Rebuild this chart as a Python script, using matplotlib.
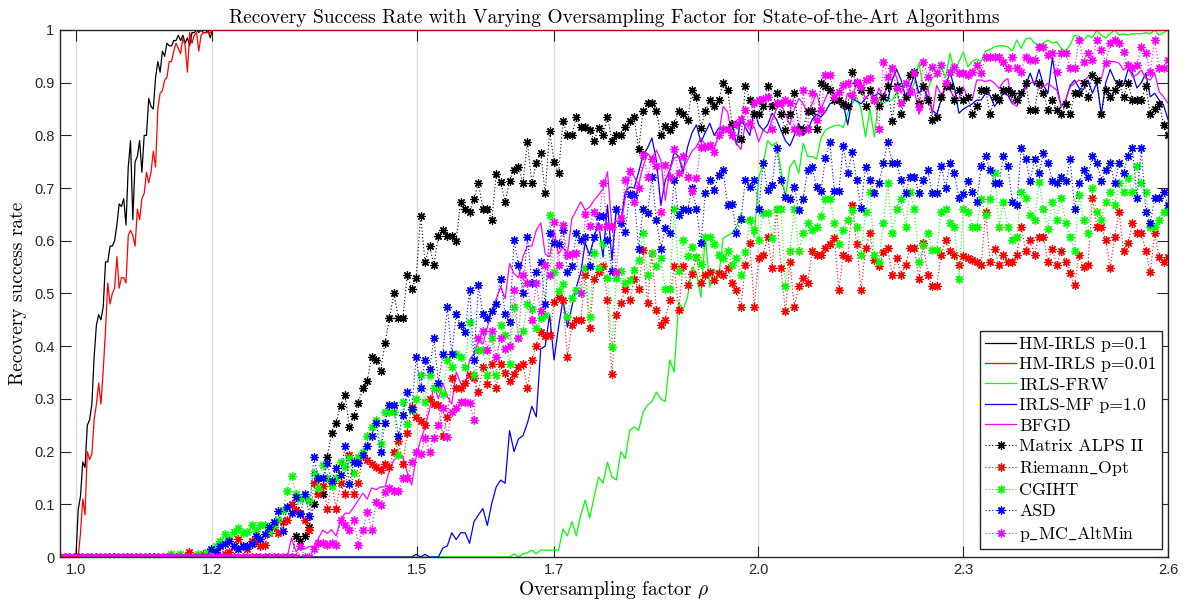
import numpy as np
import matplotlib
matplotlib.use("Agg")
import matplotlib.pyplot as plt

plt.rcParams["mathtext.fontset"] = "cm"
plt.rcParams["axes.unicode_minus"] = False
SERIF = ["cmr10", "DejaVu Serif"]
SANS = ["Liberation Sans", "DejaVu Sans"]
MAGENTA = "#ff00ff"
GREEN = "#00ff00"

# oversampling grid shared by all algorithms
N = 250
rho = np.linspace(0.977, 2.6, N)

# HM-IRLS was run on a finer grid between 1.0 and 1.2 (success = 1 afterwards)
hm_rho = np.concatenate([[rho[0]], np.linspace(1.0, 1.2, 61), [rho[-1]]])
hm_p1 = [0.0,
         0.0, 0.09, 0.115, 0.18, 0.17, 0.25, 0.26, 0.29, 0.38, 0.44,
         0.46, 0.45, 0.475, 0.56, 0.56, 0.59, 0.59, 0.60, 0.63, 0.67,
         0.665, 0.68, 0.63, 0.74, 0.79, 0.64, 0.75, 0.76, 0.79, 0.73,
         0.80, 0.80, 0.87, 0.855, 0.85, 0.91, 0.94, 0.92, 0.96, 0.95,
         0.975, 0.97, 0.97, 0.98, 0.98, 0.99, 0.98, 0.99, 0.975, 0.985,
         0.97, 0.995, 0.995, 1.0, 0.995, 1.0, 0.995, 0.995, 1.0, 0.985,
         1.0,
         1.0]
hm_p001 = [0.0,
           0.0, 0.0, 0.045, 0.11, 0.08, 0.20, 0.185, 0.195, 0.26, 0.29,
           0.33, 0.29, 0.355, 0.43, 0.52, 0.48, 0.50, 0.51, 0.57, 0.51,
           0.53, 0.53, 0.52, 0.61, 0.62, 0.61, 0.59, 0.66, 0.64, 0.68,
           0.69, 0.73, 0.71, 0.73, 0.77, 0.74, 0.85, 0.88, 0.885, 0.905,
           0.91, 0.94, 0.94, 0.96, 0.975, 0.965, 0.955, 0.985, 0.97, 0.92,
           0.995, 0.975, 0.99, 0.995, 0.96, 0.99, 0.995, 0.995, 0.995, 0.995,
           1.0,
           1.0]

# the remaining curves are zero below the listed tail (tail ends at rho = 2.6)
irls_frw = [0.0, 0.006, 0.0, 0.006, 0.008, 0.013, 0.006, 0.013, 0.013,
            0.013, 0.013, 0.013, 0.053, 0.04, 0.067, 0.04, 0.08, 0.108, 0.074,
            0.114, 0.152, 0.14, 0.18, 0.152, 0.146, 0.20, 0.187, 0.24, 0.247,
            0.24, 0.275, 0.288, 0.295, 0.313, 0.30, 0.295, 0.374, 0.351, 0.484,
            0.469, 0.493, 0.55, 0.54, 0.493, 0.61, 0.512, 0.546, 0.53, 0.605,
            0.61, 0.615, 0.626, 0.652, 0.635, 0.645, 0.607, 0.72, 0.747, 0.79,
            0.78, 0.787, 0.734, 0.683, 0.74, 0.753, 0.728, 0.785, 0.76, 0.76,
            0.755, 0.795, 0.81, 0.815, 0.818, 0.82, 0.815, 0.842, 0.86, 0.873,
            0.85, 0.797, 0.85, 0.797, 0.87, 0.86, 0.867, 0.867, 0.882, 0.855,
            0.867, 0.88, 0.90, 0.937, 0.89, 0.887, 0.91, 0.912, 0.93, 0.91,
            0.956, 0.92, 0.94, 0.958, 0.93, 0.94, 0.945, 0.94, 0.96, 0.963,
            0.968, 0.97, 0.97, 0.968, 0.96, 0.981, 0.965, 0.983, 0.985, 0.975,
            0.972, 0.975, 0.981, 0.975, 0.978, 0.965, 0.96, 0.972, 0.99, 0.988,
            0.981, 0.99, 0.985, 1.0, 0.99, 0.985, 0.993, 1.0, 0.99, 0.993,
            0.99, 0.993, 0.993, 0.993, 0.995, 0.993, 1.0, 0.99, 0.995, 1.0]

irls_mf = [0.005, 0.0, 0.005, 0.0, 0.0, 0.0, 0.017, 0.021, 0.046, 0.033,
           0.046, 0.046, 0.026, 0.067, 0.08, 0.092, 0.06, 0.102, 0.133, 0.146,
           0.14, 0.24, 0.20, 0.224, 0.23, 0.254, 0.286, 0.266, 0.395, 0.40,
           0.46, 0.374, 0.436, 0.488, 0.436, 0.475, 0.512, 0.54, 0.596, 0.573,
           0.607, 0.634, 0.569, 0.668, 0.563, 0.664, 0.636, 0.693, 0.702, 0.70,
           0.73, 0.763, 0.776, 0.795, 0.753, 0.668, 0.715, 0.734, 0.768, 0.76,
           0.73, 0.778, 0.805, 0.82, 0.787, 0.806, 0.823, 0.80, 0.814, 0.81,
           0.81, 0.825, 0.782, 0.833, 0.815, 0.80, 0.848, 0.82, 0.81, 0.82,
           0.842, 0.83, 0.81, 0.79, 0.78, 0.80, 0.823, 0.80, 0.81, 0.83,
           0.84, 0.835, 0.845, 0.86, 0.865, 0.87, 0.86, 0.82, 0.87, 0.865,
           0.86, 0.87, 0.88, 0.875, 0.88, 0.87, 0.865, 0.905, 0.925, 0.905,
           0.873, 0.89, 0.915, 0.88, 0.89, 0.873, 0.848, 0.84, 0.867, 0.894,
           0.92, 0.89, 0.842, 0.85, 0.855, 0.86, 0.867, 0.867, 0.88, 0.876,
           0.855, 0.867, 0.88, 0.876, 0.86, 0.88, 0.878, 0.895, 0.918, 0.895,
           0.925, 0.895, 0.88, 0.947, 0.895, 0.854, 0.867, 0.895, 0.905, 0.89,
           0.887, 0.905, 0.88, 0.90, 0.84, 0.90, 0.925, 0.905, 0.895, 0.895,
           0.925, 0.918, 0.89, 0.90, 0.918, 0.873, 0.88, 0.867, 0.857, 0.83]

bfgd = [0.0, 0.036, 0.01, 0.02, 0.015, 0.02, 0.02, 0.035, 0.051,
        0.045, 0.052, 0.04, 0.07, 0.083, 0.083, 0.095, 0.108, 0.121, 0.11,
        0.131, 0.128, 0.133, 0.133, 0.165, 0.184, 0.19, 0.19, 0.16, 0.137,
        0.19, 0.222, 0.247, 0.279, 0.326, 0.30, 0.33, 0.305, 0.29, 0.351,
        0.33, 0.323, 0.374, 0.386, 0.41, 0.404, 0.436, 0.468, 0.49, 0.513,
        0.49, 0.557, 0.538, 0.53, 0.57, 0.59, 0.59, 0.62, 0.634, 0.575,
        0.57, 0.617, 0.575, 0.588, 0.575, 0.642, 0.658, 0.674, 0.658, 0.664,
        0.677, 0.687, 0.699, 0.731, 0.627, 0.639, 0.627, 0.68, 0.731, 0.722,
        0.706, 0.741, 0.766, 0.757, 0.772, 0.753, 0.677, 0.734, 0.757, 0.76,
        0.737, 0.753, 0.77, 0.779, 0.795, 0.782, 0.773, 0.776, 0.801, 0.855,
        0.845, 0.798, 0.785, 0.773, 0.823, 0.81, 0.816, 0.788, 0.81, 0.804,
        0.83, 0.85, 0.86, 0.84, 0.82, 0.85, 0.87, 0.86, 0.84, 0.86,
        0.88, 0.85, 0.87, 0.89, 0.88, 0.86, 0.85, 0.88, 0.87, 0.90,
        0.89, 0.87, 0.88, 0.86, 0.89, 0.87, 0.90, 0.93, 0.91, 0.88,
        0.899, 0.892, 0.886, 0.84, 0.861, 0.892, 0.84, 0.895, 0.877, 0.889,
        0.886, 0.87, 0.87, 0.892, 0.87, 0.867, 0.905, 0.905, 0.902, 0.905,
        0.899, 0.889, 0.902, 0.908, 0.861, 0.855, 0.877, 0.889, 0.899, 0.902,
        0.889, 0.892, 0.899, 0.892, 0.886, 0.855, 0.867, 0.892, 0.899, 0.905,
        0.902, 0.911, 0.911, 0.908, 0.908, 0.94, 0.94, 0.94, 0.937, 0.924,
        0.93, 0.911, 0.915, 0.924, 0.908, 0.905, 0.918, 0.883, 0.873, 0.861]

alps2 = [0.04, 0.03, 0.04, 0.057, 0.10, 0.15, 0.12,
         0.19, 0.235, 0.255, 0.287, 0.307, 0.247, 0.267, 0.292, 0.32, 0.334,
         0.38, 0.374, 0.353, 0.406, 0.453, 0.50, 0.453, 0.453, 0.535, 0.508,
         0.53, 0.647, 0.56, 0.59, 0.554, 0.61, 0.62, 0.61, 0.61, 0.60,
         0.674, 0.66, 0.655, 0.68, 0.71, 0.66, 0.66, 0.64, 0.727, 0.712,
         0.674, 0.713, 0.734, 0.74, 0.71, 0.787, 0.71, 0.748, 0.767, 0.69,
         0.808, 0.75, 0.728, 0.827, 0.80, 0.80, 0.835, 0.815, 0.815, 0.81,
         0.79, 0.814, 0.80, 0.835, 0.79, 0.80, 0.80, 0.815, 0.827, 0.835,
         0.774, 0.846, 0.861, 0.861, 0.846, 0.80, 0.817, 0.81, 0.822, 0.846,
         0.84, 0.829, 0.886, 0.873, 0.814, 0.846, 0.867, 0.855, 0.867, 0.90,
         0.887, 0.822, 0.822, 0.793, 0.894, 0.867, 0.84, 0.84, 0.855, 0.894,
         0.855, 0.88, 0.84, 0.81, 0.84, 0.88, 0.813, 0.813, 0.846, 0.846,
         0.813, 0.90, 0.894, 0.886, 0.867, 0.867, 0.86, 0.855, 0.92, 0.90,
         0.887, 0.855, 0.887, 0.867, 0.855, 0.873, 0.894, 0.827, 0.894, 0.84,
         0.873, 0.915, 0.92, 0.861, 0.894, 0.867, 0.829, 0.835, 0.873, 0.894,
         0.894, 0.867, 0.887, 0.867, 0.873, 0.84, 0.855, 0.887, 0.887, 0.84,
         0.873, 0.867, 0.887, 0.887, 0.88, 0.867, 0.88, 0.90, 0.848, 0.848,
         0.90, 0.88, 0.848, 0.867, 0.848, 0.84, 0.86, 0.84, 0.88, 0.88,
         0.90, 0.873, 0.915, 0.905, 0.84, 0.886, 0.873, 0.886, 0.90, 0.873,
         0.90, 0.867, 0.867, 0.867, 0.894, 0.84, 0.85, 0.86, 0.82, 0.80]

riemann = [0.01,
           0.0, 0.0, 0.005, 0.0, 0.0, 0.01, 0.0, 0.005, 0.01, 0.02,
           0.035, 0.02, 0.015, 0.03, 0.029, 0.02, 0.023, 0.045, 0.057, 0.045,
           0.066, 0.07, 0.101, 0.09, 0.083, 0.07, 0.051, 0.14, 0.12, 0.135,
           0.092, 0.14, 0.092, 0.14, 0.12, 0.194, 0.12, 0.14, 0.194, 0.184,
           0.176, 0.17, 0.165, 0.176, 0.17, 0.2, 0.22, 0.176, 0.235, 0.284,
           0.265, 0.258, 0.25, 0.3, 0.29, 0.288, 0.23, 0.265, 0.34, 0.32,
           0.32, 0.33, 0.345, 0.34, 0.313, 0.36, 0.329, 0.367, 0.32, 0.367,
           0.35, 0.334, 0.347, 0.36, 0.367, 0.32, 0.374, 0.401, 0.427, 0.419,
           0.421, 0.484, 0.494, 0.488, 0.38, 0.44, 0.45, 0.45, 0.535, 0.434,
           0.527, 0.54, 0.553, 0.488, 0.347, 0.46, 0.482, 0.509, 0.488, 0.527,
           0.508, 0.582, 0.482, 0.576, 0.468, 0.44, 0.45, 0.488, 0.553, 0.468,
           0.553, 0.516, 0.537, 0.569, 0.52, 0.535, 0.54, 0.526, 0.539, 0.535,
           0.548, 0.52, 0.506, 0.475, 0.554, 0.595, 0.475, 0.567, 0.573, 0.608,
           0.548, 0.66, 0.548, 0.466, 0.56, 0.475, 0.514, 0.529, 0.52, 0.581,
           0.573, 0.573, 0.586, 0.594, 0.606, 0.506, 0.573, 0.567, 0.668, 0.594,
           0.506, 0.586, 0.614, 0.563, 0.552, 0.579, 0.586, 0.535, 0.567, 0.535,
           0.554, 0.586, 0.586, 0.527, 0.595, 0.535, 0.514, 0.514, 0.573, 0.602,
           0.581, 0.573, 0.554, 0.571, 0.567, 0.563, 0.56, 0.554, 0.655, 0.56,
           0.585, 0.554, 0.573, 0.56, 0.56, 0.573, 0.627, 0.581, 0.602, 0.573,
           0.608, 0.608, 0.56, 0.585, 0.554, 0.581, 0.56, 0.539, 0.516, 0.573,
           0.551, 0.554, 0.681, 0.627, 0.627, 0.602, 0.548, 0.608, 0.655, 0.581,
           0.595, 0.634, 0.614, 0.614, 0.581, 0.54, 0.614, 0.569, 0.56, 0.569]

cgiht = [0.005, 0.0, 0.005, 0.0, 0.0,
         0.0, 0.005, 0.0, 0.01, 0.005, 0.02, 0.03, 0.043, 0.035, 0.048,
         0.055, 0.045, 0.048, 0.06, 0.05, 0.06, 0.06, 0.048, 0.06, 0.07,
         0.09, 0.125, 0.154, 0.12, 0.11, 0.116, 0.106, 0.16, 0.13, 0.174,
         0.15, 0.134, 0.15, 0.181, 0.17, 0.187, 0.16, 0.19, 0.2, 0.229,
         0.247, 0.26, 0.215, 0.276, 0.276, 0.276, 0.193, 0.295, 0.253, 0.278,
         0.30, 0.345, 0.295, 0.345, 0.32, 0.32, 0.31, 0.374, 0.361, 0.386,
         0.38, 0.361, 0.446, 0.345, 0.393, 0.393, 0.345, 0.415, 0.345, 0.44,
         0.421, 0.367, 0.474, 0.415, 0.428, 0.48, 0.47, 0.434, 0.453, 0.46,
         0.649, 0.54, 0.505, 0.518, 0.456, 0.492, 0.507, 0.50, 0.548, 0.456,
         0.576, 0.548, 0.595, 0.53, 0.399, 0.53, 0.542, 0.52, 0.525, 0.545,
         0.564, 0.614, 0.535, 0.576, 0.553, 0.567, 0.508, 0.508, 0.661, 0.542,
         0.601, 0.572, 0.589, 0.569, 0.556, 0.608, 0.608, 0.594, 0.573, 0.567,
         0.581, 0.554, 0.568, 0.535, 0.579, 0.64, 0.621, 0.601, 0.652, 0.653,
         0.606, 0.661, 0.661, 0.514, 0.581, 0.661, 0.581, 0.614, 0.634, 0.62,
         0.627, 0.647, 0.68, 0.68, 0.634, 0.594, 0.621, 0.64, 0.658, 0.627,
         0.573, 0.655, 0.693, 0.573, 0.56, 0.634, 0.709, 0.614, 0.66, 0.68,
         0.627, 0.693, 0.66, 0.56, 0.592, 0.614, 0.582, 0.582, 0.655, 0.66,
         0.634, 0.627, 0.527, 0.66, 0.655, 0.627, 0.627, 0.679, 0.649, 0.679,
         0.728, 0.627, 0.674, 0.627, 0.602, 0.608, 0.693, 0.681, 0.649, 0.64,
         0.712, 0.66, 0.622, 0.674, 0.64, 0.681, 0.634, 0.608, 0.581, 0.687,
         0.64, 0.614, 0.701, 0.655, 0.64, 0.674, 0.693, 0.668, 0.709, 0.693,
         0.72, 0.693, 0.742, 0.709, 0.693, 0.627, 0.627, 0.64, 0.655, 0.655]

asd = [0.016, 0.01, 0.02, 0.025, 0.03, 0.02,
       0.015, 0.02, 0.02, 0.025, 0.04, 0.035, 0.043, 0.057, 0.066, 0.088,
       0.05, 0.095, 0.083, 0.114, 0.082, 0.12, 0.078, 0.189, 0.149, 0.15,
       0.178, 0.145, 0.169, 0.155, 0.21, 0.139, 0.181, 0.178, 0.194, 0.21,
       0.229, 0.255, 0.2, 0.255, 0.289, 0.289, 0.229, 0.27, 0.314, 0.28,
       0.38, 0.32, 0.373, 0.356, 0.415, 0.33, 0.386, 0.474, 0.386, 0.462,
       0.44, 0.427, 0.506, 0.374, 0.516, 0.462, 0.453, 0.466, 0.48, 0.527,
       0.462, 0.446, 0.601, 0.555, 0.50, 0.608, 0.52, 0.54, 0.56, 0.48,
       0.614, 0.595, 0.594, 0.621, 0.54, 0.553, 0.614, 0.601, 0.608, 0.553,
       0.608, 0.647, 0.647, 0.601, 0.542, 0.661, 0.634, 0.617, 0.689, 0.687,
       0.585, 0.661, 0.652, 0.722, 0.639, 0.585, 0.624, 0.614, 0.716, 0.649,
       0.661, 0.659, 0.70, 0.661, 0.595, 0.69, 0.716, 0.697, 0.725, 0.735,
       0.667, 0.67, 0.614, 0.642, 0.716, 0.703, 0.716, 0.661, 0.747, 0.697,
       0.706, 0.776, 0.715, 0.684, 0.68, 0.703, 0.658, 0.68, 0.734, 0.74,
       0.703, 0.694, 0.758, 0.787, 0.694, 0.694, 0.78, 0.728, 0.768, 0.715,
       0.662, 0.74, 0.715, 0.69, 0.709, 0.747, 0.787, 0.747, 0.747, 0.715,
       0.69, 0.721, 0.721, 0.69, 0.715, 0.734, 0.69, 0.69, 0.742, 0.701,
       0.747, 0.728, 0.681, 0.689, 0.714, 0.693, 0.674, 0.742, 0.761, 0.734,
       0.709, 0.709, 0.761, 0.742, 0.674, 0.668, 0.776, 0.755, 0.714, 0.755,
       0.728, 0.767, 0.747, 0.714, 0.709, 0.721, 0.714, 0.755, 0.66, 0.709,
       0.734, 0.721, 0.761, 0.747, 0.714, 0.734, 0.747, 0.709, 0.747, 0.728,
       0.761, 0.776, 0.681, 0.776, 0.655, 0.634, 0.681, 0.681, 0.693, 0.668]

altmin = [0.02, 0.0, 0.0, 0.015, 0.026, 0.026,
          0.022, 0.026, 0.022, 0.07, 0.06, 0.051, 0.07, 0.022, 0.051, 0.086,
          0.051, 0.105, 0.099, 0.124, 0.13, 0.125, 0.125, 0.149, 0.149, 0.18,
          0.2, 0.195, 0.225, 0.2, 0.225, 0.25, 0.282, 0.228, 0.276, 0.282,
          0.295, 0.295, 0.293, 0.26, 0.415, 0.428, 0.393, 0.428, 0.38, 0.415,
          0.394, 0.40, 0.506, 0.415, 0.535, 0.52, 0.45, 0.52, 0.466, 0.555,
          0.535, 0.636, 0.555, 0.63, 0.573, 0.575, 0.577, 0.50, 0.65, 0.628,
          0.655, 0.627, 0.709, 0.628, 0.627, 0.54, 0.643, 0.716, 0.733, 0.674,
          0.70, 0.763, 0.722, 0.755, 0.741, 0.655, 0.744, 0.722, 0.775, 0.728,
          0.76, 0.722, 0.694, 0.72, 0.778, 0.778, 0.781, 0.768, 0.80, 0.813,
          0.813, 0.80, 0.822, 0.832, 0.848, 0.823, 0.861, 0.867, 0.87, 0.873,
          0.813, 0.861, 0.861, 0.867, 0.861, 0.813, 0.807, 0.886, 0.813, 0.88,
          0.829, 0.848, 0.914, 0.914, 0.873, 0.883, 0.895, 0.899, 0.877, 0.902,
          0.892, 0.905, 0.908, 0.867, 0.813, 0.94, 0.911, 0.927, 0.889, 0.861,
          0.899, 0.883, 0.918, 0.854, 0.94, 0.911, 0.93, 0.918, 0.934, 0.899,
          0.92, 0.93, 0.918, 0.918, 0.915, 0.92, 0.934, 0.918, 0.949, 0.949,
          0.949, 0.949, 0.94, 0.927, 0.949, 0.927, 0.921, 0.949, 0.943, 0.943,
          0.968, 0.968, 0.952, 0.956, 0.921, 0.956, 0.956, 0.927, 0.927, 0.981,
          0.94, 0.956, 0.943, 0.981, 0.962, 0.937, 0.975, 0.981, 0.975, 0.959,
          0.934, 0.927, 0.934, 0.968, 0.956, 0.921, 0.981, 0.927, 0.927, 0.943]


def full(tail):
    return np.concatenate([np.zeros(N - len(tail)), tail])


solid = [
    ("HM-IRLS p=0.1", hm_rho, hm_p1, "k", 2),
    ("HM-IRLS p=0.01", hm_rho, hm_p001, "r", 2.6),
    ("IRLS-FRW", rho, full(irls_frw), GREEN, 2),
    ("IRLS-MF p=1.0", rho, full(irls_mf), "b", 2),
    ("BFGD", rho, full(bfgd), MAGENTA, 2),
]
starred = [
    ("Matrix ALPS II", full(alps2), "k"),
    (r"Riemann$\_$Opt", full(riemann), "r"),
    ("CGIHT", full(cgiht), GREEN),
    ("ASD", full(asd), "b"),
    (r"p$\_$MC$\_$AltMin", full(altmin), MAGENTA),
]

fig = plt.figure(figsize=(11.92, 6.01), dpi=100)
ax = fig.add_axes([0.0503, 0.0732, 0.9296, 0.8769])

for label, x, y, c, z in solid:
    ax.plot(x, y, "-", color=c, lw=0.9, label=label, zorder=z)
for label, y, c in starred:
    ax.plot(rho, y, color=c, ls=(0, (1, 2)), lw=0.8, marker=(8, 2, 0),
            ms=6, mew=0.9, label=label)

ax.set_xlim(0.9766, 2.6)
ax.set_ylim(0, 1)
ax.set_xticks([1.0, 1.2, 1.5, 1.7, 2.0, 2.3, 2.6])
ax.set_xticklabels(["1.0", "1.2", "1.5", "1.7", "2.0", "2.3", "2.6"],
                   fontfamily=SANS)
ax.set_yticks(np.arange(0, 1.01, 0.1))
ax.set_yticklabels(["0", "0.1", "0.2", "0.3", "0.4", "0.5", "0.6", "0.7",
                    "0.8", "0.9", "1"], fontfamily=SANS)
ax.tick_params(direction="in", length=8, width=0.8, top=True, right=True,
               colors="#262626", labelsize=10.5, pad=4)
ax.xaxis.grid(True, color="#dcdcdc", lw=1.0)
ax.set_axisbelow(True)
for s in ax.spines.values():
    s.set_color("#262626")
    s.set_linewidth(1.0)

ax.set_title("Recovery Success Rate with Varying Oversampling Factor for "
             "State-of-the-Art Algorithms", fontfamily=SERIF, fontsize=14,
             pad=5)
ax.set_xlabel(r"Oversampling factor $\rho$", fontfamily=SERIF, fontsize=14,
              labelpad=2)
ax.set_ylabel("Recovery success rate", fontfamily=SERIF, fontsize=14,
              labelpad=5)

leg = ax.legend(loc="lower right", bbox_to_anchor=(0.9946, 0.015),
                borderaxespad=0, prop={"family": SERIF, "size": 12.8},
                handlelength=1.7, handletextpad=0.2, labelspacing=0.28,
                borderpad=0.3, fancybox=False, framealpha=1)
leg.get_frame().set_edgecolor("#262626")
leg.get_frame().set_linewidth(1.0)
leg.set_zorder(5)

fig.savefig("out.png", dpi=100)
